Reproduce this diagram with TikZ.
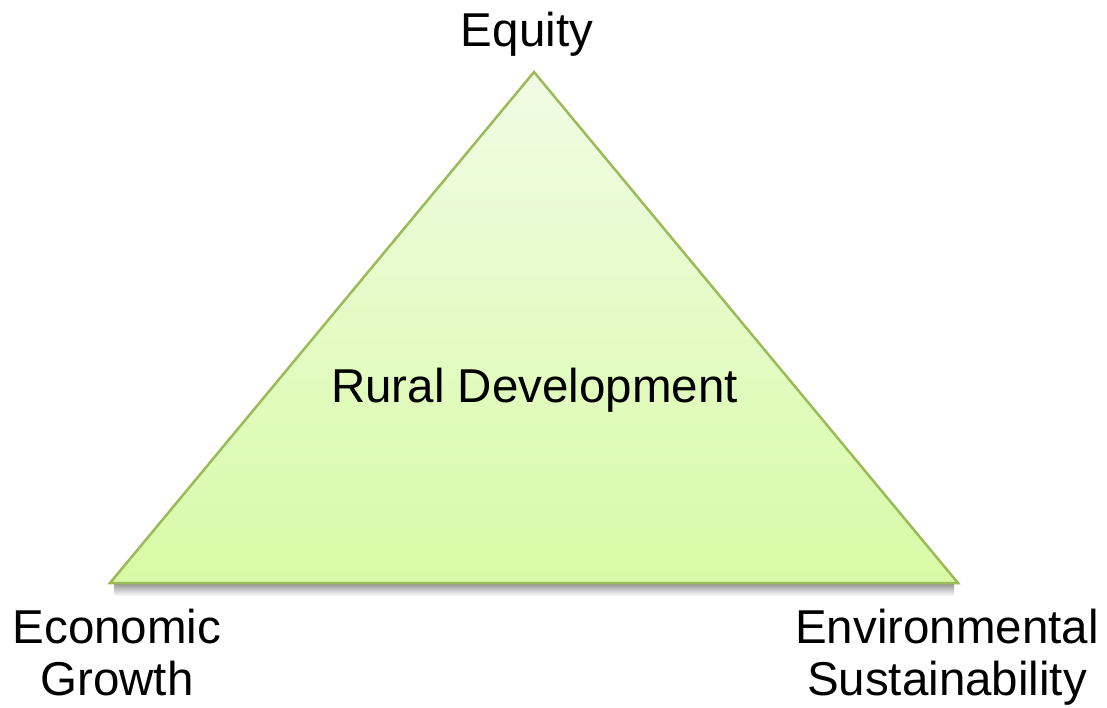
\documentclass[tikz,border=0pt]{standalone}
\usepackage{fontspec}
\setmainfont{Liberation Sans}
\definecolor{triborder}{HTML}{9BBB59}
\definecolor{tritop}{HTML}{F0FCE4}
\definecolor{tribot}{HTML}{D8FAA6}
\tikzset{
  lbl/.style={font=\fontsize{47.5}{52}\selectfont, inner sep=0pt, anchor=base, align=center, text=black},
}
\begin{document}
\begin{tikzpicture}[x=1pt,y=-1pt]
\useasboundingbox (0,0) rectangle (1107,707);
\coordinate (apex) at (534,72);
\coordinate (bl) at (110,583);
\coordinate (br) at (958,583);
% shadow
\shade[top color=black!40, bottom color=white] (114,584) rectangle (954,596);
% triangle
\shade[top color=tritop, bottom color=tribot] (apex) -- (br) -- (bl) -- cycle;
\draw[triborder, line width=2.5pt, line join=miter] (apex) -- (br) -- (bl) -- cycle;
\node[lbl] (equity) at (527,46) {Equity};
\node[lbl] (rural) at (534.5,402) {Rural Development};
\node[lbl] (econ) at (117,695) {Economic\\Growth};
\node[lbl] (env) at (947,695) {Environmental\\Sustainability};
\end{tikzpicture}
\end{document}
